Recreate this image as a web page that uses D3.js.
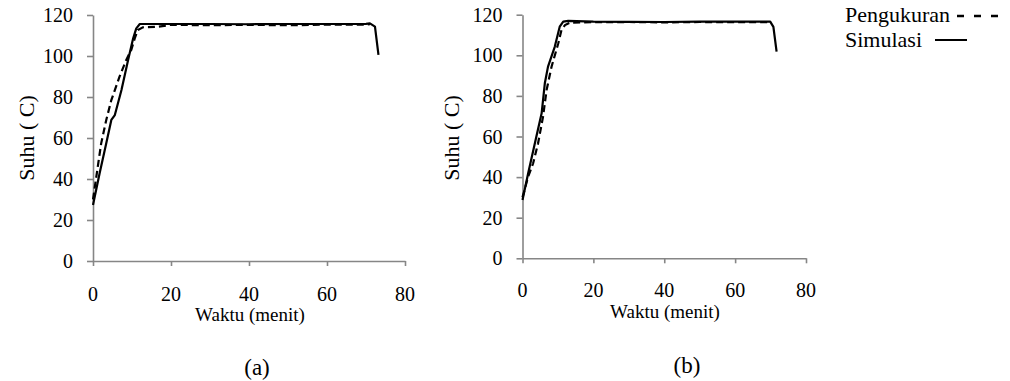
<!DOCTYPE html>
<html>
<head>
<meta charset="utf-8">
<script src="https://cdn.jsdelivr.net/npm/d3@7"></script>
</head>
<body style="margin:0;background:#fff">
<svg id="chart" width="1010" height="381"></svg>
<script>

// Panel (a)
const timeSimA = [0, 1.7, 3.4, 4.7, 5.6, 7.3, 9, 10.3, 11.1, 12, 20, 30, 40, 50, 60, 70, 71, 72.3, 73.2];
const tempSimA = [27.3, 42.8, 57.4, 68.8, 71.2, 83.4, 98, 108.6, 113.5, 115.6, 115.6, 115.6, 115.5, 115.6, 115.6, 115.7, 115.9, 114.3, 100.5];

const timeMeasA = [0, 2.1, 3.4, 4.7, 6.8, 8.5, 9.8, 10.7, 11.5, 12.8, 16.7, 20, 30, 40, 50, 60, 70, 71];
const tempMeasA = [30, 57.4, 68.8, 78.5, 89.9, 98, 102.9, 108.6, 112.7, 114, 114.3, 115.2, 115, 115.2, 115, 115.3, 115.3, 115.5];

// Panel (b)
const timeSimB = [0, 1.6, 3.9, 5.4, 6.3, 7.2, 9.1, 10.5, 11.5, 12.9, 20, 30, 40, 50, 60, 69.9, 70.8, 71.7];
const tempSimB = [28.7, 41.9, 59.9, 71.4, 86.2, 94.4, 104.2, 114.1, 116.6, 117, 116.6, 116.5, 116.4, 116.6, 116.6, 116.6, 114, 101.8];

const timeMeasB = [0, 1.6, 3, 4.4, 5.8, 6.8, 8.2, 10.1, 11, 12, 13.4, 20, 30, 40, 50, 60, 70];
const tempMeasB = [30, 40.2, 46.8, 56.7, 69.8, 82.9, 94.4, 105.9, 112.5, 114.9, 116.1, 116.3, 116.4, 116.2, 116.4, 116.3, 116.3];

const xTicks = [0, 20, 40, 60, 80];
const yTicks = [0, 20, 40, 60, 80, 100, 120];

const xTitle = "Waktu (menit)";
const yTitle = "Suhu ( C)";
const legendNames = ["Pengukuran", "Simulasi"];

const font = "'Liberation Serif', 'Times New Roman', 'DejaVu Serif', serif";
const axisColor = "#868686";

const svg = d3.select("#chart").attr("font-family", font);

const zip = (ts, vs) => ts.map((t, i) => ({ t: t, v: vs[i] }));

function drawPanel(opts) {

    const x = d3.scaleLinear().domain([0, 80]).range([opts.left, opts.right]);
    const y = d3.scaleLinear().domain([0, 120]).range([opts.bottom, opts.top]);

    const g = svg.append("g");

    /*
    | Axes
    */
    const xAxis = g.append("g")
    .attr("transform", `translate(0,${opts.bottom})`)
    .call(d3.axisBottom(x).tickValues(xTicks).tickSize(5).tickSizeOuter(0).tickFormat(""));

    const yAxis = g.append("g")
    .attr("transform", `translate(${opts.left},0)`)
    .call(d3.axisLeft(y).tickValues(yTicks).tickSize(6).tickSizeOuter(0).tickFormat(""));

    [xAxis, yAxis].forEach(a => {
        a.selectAll("path, line")
        .attr("stroke", axisColor)
        .attr("stroke-width", 1.6);
    });

    g.selectAll(".xlab")
    .data(xTicks)
    .enter()
    .append("text")
    .attr("x", d => x(d))
    .attr("y", opts.xLabelY)
    .attr("text-anchor", "middle")
    .attr("font-family", font)
    .attr("font-size", 20)
    .text(d => d);

    g.selectAll(".ylab")
    .data(yTicks)
    .enter()
    .append("text")
    .attr("x", opts.left - 20)
    .attr("y", d => y(d) + 7)
    .attr("text-anchor", "end")
    .attr("font-family", font)
    .attr("font-size", 20)
    .text(d => d);

    /*
    | Titles
    */
    g.append("text")
    .attr("x", opts.xTitleX)
    .attr("y", opts.xTitleY)
    .attr("text-anchor", "middle")
    .attr("font-family", font)
    .attr("font-size", 19)
    .text(xTitle);

    g.append("text")
    .attr("transform", `translate(${opts.yTitleX},${opts.yTitleY}) rotate(-90)`)
    .attr("text-anchor", "middle")
    .attr("font-family", font)
    .attr("font-size", 22)
    .text(yTitle);

    g.append("text")
    .attr("x", opts.captionX)
    .attr("y", opts.captionY)
    .attr("text-anchor", "middle")
    .attr("font-family", font)
    .attr("font-size", 23)
    .text(opts.caption);

    /*
    | Lines
    */
    const line = d3.line()
    .x(d => x(d.t))
    .y(d => y(d.v));

    g.append("path")
    .datum(opts.sim)
    .attr("d", line)
    .attr("fill", "none")
    .attr("stroke", "#000")
    .attr("stroke-width", 2.2)
    .attr("stroke-linejoin", "round");

    g.append("path")
    .datum(opts.meas)
    .attr("d", line)
    .attr("fill", "none")
    .attr("stroke", "#000")
    .attr("stroke-width", 2.2)
    .attr("stroke-dasharray", "7,4");
}

drawPanel({
    left: 93, right: 405, top: 15, bottom: 261,
    xLabelY: 301, xTitleX: 250, xTitleY: 321,
    yTitleX: 34, yTitleY: 138,
    captionX: 257, captionY: 375, caption: "(a)",
    sim: zip(timeSimA, tempSimA),
    meas: zip(timeMeasA, tempMeasA)
});

drawPanel({
    left: 522.5, right: 806, top: 14.7, bottom: 258.3,
    xLabelY: 297, xTitleX: 665, xTitleY: 318,
    yTitleX: 459, yTitleY: 138,
    captionX: 687, captionY: 373, caption: "(b)",
    sim: zip(timeSimB, tempSimB),
    meas: zip(timeMeasB, tempMeasB)
});

/*
| Legend
*/
const legend = svg.append("g");

legend.selectAll("text")
.data(legendNames)
.enter()
.append("text")
.attr("x", 845)
.attr("y", (d, i) => 22 + i * 25)
.attr("font-family", font)
.attr("font-size", 22)
.text(d => d);

legend.append("line")
.attr("x1", 957).attr("x2", 1002)
.attr("y1", 16).attr("y2", 16)
.attr("stroke", "#000")
.attr("stroke-width", 2.5)
.attr("stroke-dasharray", "7,10");

legend.append("line")
.attr("x1", 935).attr("x2", 967)
.attr("y1", 40).attr("y2", 40)
.attr("stroke", "#000")
.attr("stroke-width", 2);

</script>
</body>
</html>
